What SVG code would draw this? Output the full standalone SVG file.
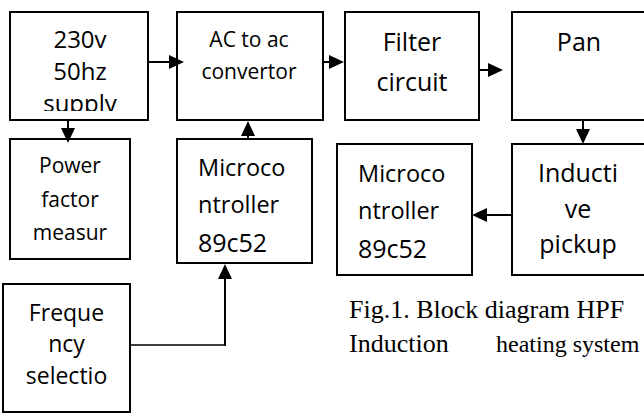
<svg xmlns="http://www.w3.org/2000/svg" width="644" height="413" viewBox="0 0 644 413">
<style>
.box{fill:#fff;stroke:#000;stroke-width:2}
.t{font-family:"Open Sans","Liberation Sans",sans-serif;fill:#000}
.c{text-anchor:middle}
.cap{font-family:"Liberation Serif","Times New Roman",serif;font-size:26px;fill:#000}
.ln{stroke:#000;stroke-width:2;fill:none}
</style>
<defs>
<marker id="ah" markerWidth="16" markerHeight="14" refX="0" refY="7" orient="auto" markerUnits="userSpaceOnUse"><path d="M0,0 L15,7 L0,14 z" fill="#000"/></marker>
<clipPath id="clip1"><rect x="10" y="12" width="138" height="99"/></clipPath>
</defs>
<rect width="644" height="413" fill="#fff"/>
<g id="supply">
<rect class="box" x="10" y="12" width="138" height="108"/>
<g clip-path="url(#clip1)" class="t c" style="font-size:24px">
<text x="80" y="48">230v</text>
<text x="80" y="80">50hz</text>
<text x="80" y="112">supply</text>
</g>
</g>
<g id="convertor">
<rect class="box" x="177" y="12" width="146" height="108"/>
<text class="t c" x="249" y="47" style="font-size:21px">AC to ac</text>
<text class="t c" x="249" y="79" style="font-size:21px">convertor</text>
</g>
<g id="filter">
<rect class="box" x="345" y="12" width="134" height="108"/>
<text class="t c" x="412" y="51" style="font-size:25px">Filter</text>
<text class="t c" x="412" y="91" style="font-size:25px">circuit</text>
</g>
<g id="pan">
<rect class="box" x="512" y="12" width="134" height="108"/>
<text class="t c" x="579" y="51" style="font-size:25px">Pan</text>
</g>
<g id="powerfactor">
<rect class="box" x="10" y="139" width="120" height="120"/>
<text class="t c" x="70" y="173" style="font-size:21px">Power</text>
<text class="t c" x="70" y="207" style="font-size:21px">factor</text>
<text class="t c" x="70" y="240" style="font-size:21px">measur</text>
</g>
<g id="micro1">
<rect class="box" x="177" y="139" width="135" height="124"/>
<text class="t" x="198" y="176" style="font-size:23.5px">Microco</text>
<text class="t" x="198" y="213" style="font-size:23.5px">ntroller</text>
<text class="t" x="198" y="252" style="font-size:25px">89c52</text>
</g>
<g id="micro2">
<rect class="box" x="337" y="144" width="135" height="131"/>
<text class="t" x="358" y="182" style="font-size:23.5px">Microco</text>
<text class="t" x="358" y="219" style="font-size:23.5px">ntroller</text>
<text class="t" x="358" y="258" style="font-size:25px">89c52</text>
</g>
<g id="inductive">
<rect class="box" x="512" y="144" width="134" height="131"/>
<text class="t c" x="578" y="182" style="font-size:25px">Inducti</text>
<text class="t c" x="578" y="218" style="font-size:25px">ve</text>
<text class="t c" x="578" y="253" style="font-size:25px">pickup</text>
</g>
<g id="frequency">
<rect class="box" x="3" y="284" width="127" height="128"/>
<text class="t c" x="66.5" y="321" style="font-size:23px">Freque</text>
<text class="t c" x="66.5" y="352" style="font-size:23px">ncy</text>
<text class="t c" x="66.5" y="384" style="font-size:23px">selectio</text>
</g>
<g id="connectors">
<line class="ln" x1="148" y1="62" x2="169" y2="62" marker-end="url(#ah)"/>
<line class="ln" x1="323" y1="62" x2="329" y2="62" marker-end="url(#ah)"/>
<line class="ln" x1="479" y1="70" x2="488" y2="70" marker-end="url(#ah)"/>
<line class="ln" x1="68" y1="120" x2="68" y2="128" marker-end="url(#ah)"/>
<line class="ln" x1="248" y1="139" x2="248" y2="136" marker-end="url(#ah)"/>
<line class="ln" x1="583" y1="120" x2="583" y2="129" marker-end="url(#ah)"/>
<line class="ln" x1="512" y1="215" x2="487" y2="215" marker-end="url(#ah)"/>
<line x1="130" y1="345" x2="226" y2="345" stroke="#000" stroke-width="1.4"/>
<line class="ln" x1="225" y1="345.7" x2="225" y2="279" marker-end="url(#ah)"/>
</g>
<g id="caption">
<text class="cap" x="349" y="318">Fig.1. Block diagram HPF</text>
<text class="cap" x="349" y="352">Induction</text>
<text class="cap" x="496" y="352" style="font-size:24px">heating system</text>
</g>
</svg>
